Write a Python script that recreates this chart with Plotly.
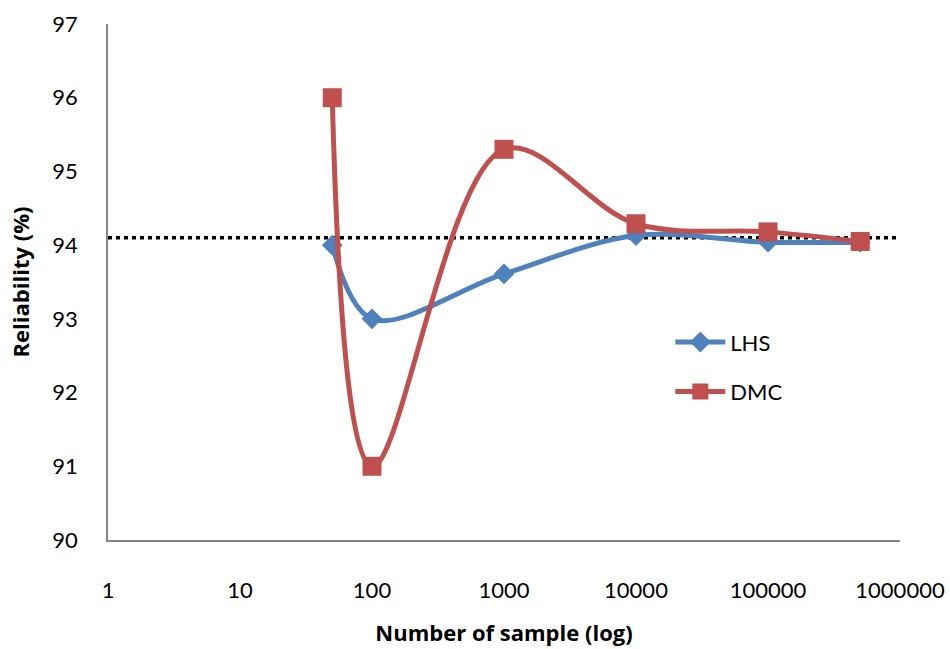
import plotly.graph_objects as go

# Sample counts (log scale) and reliability estimates
samples = [50, 100, 1000, 10000, 100000, 500000]
lhs = [94.0, 93.0, 93.61, 94.13, 94.04, 94.04]
dmc = [96.0, 91.0, 95.3, 94.29, 94.18, 94.05]

# Reference reliability level
ref_level = 94.1
ref_x = [1, 1000000]

x_ticks = [1, 10, 100, 1000, 10000, 100000, 1000000]
y_ticks = [90, 91, 92, 93, 94, 95, 96, 97]

BLUE = "#4F81BD"
RED = "#C0504D"
FONT = "Lato, 'Open Sans', sans-serif"
TITLE_FONT = "'Open Sans', Lato, sans-serif"

fig = go.Figure()

fig.add_trace(go.Scatter(
    x=ref_x, y=[ref_level, ref_level], mode="lines",
    line=dict(color="black", width=3.5, dash="4px,4px"),
    showlegend=False, hoverinfo="skip", cliponaxis=False,
))

fig.add_trace(go.Scatter(
    x=samples, y=lhs, name="LHS", mode="lines+markers",
    line=dict(color=BLUE, width=5, shape="spline", smoothing=1),
    marker=dict(symbol="diamond", size=16, color=BLUE),
    legendgroup="a",
))
fig.add_trace(go.Scatter(
    x=samples, y=dmc, name="DMC", mode="lines+markers",
    line=dict(color=RED, width=5, shape="spline", smoothing=1),
    marker=dict(symbol="square", size=19, color=RED),
    legendgroup="b",
))

fig.update_layout(
    width=950, height=649,
    margin=dict(l=108, r=50, t=24, b=109),
    paper_bgcolor="white", plot_bgcolor="white",
    font=dict(family=FONT, size=22, color="black"),
    legend=dict(
        x=0.71, y=0.424, xanchor="left", yanchor="top",
        bgcolor="rgba(0,0,0,0)", font=dict(size=22),
        itemwidth=50, traceorder="grouped", tracegroupgap=18,
    ),
    xaxis=dict(
        type="log", range=[0, 6], tickvals=x_ticks,
        ticktext=[str(v) for v in x_ticks],
        showgrid=False, zeroline=False, automargin=False,
        showline=True, linecolor="#868686", linewidth=1.5,
        ticks="outside", ticklen=0, ticklabelstandoff=30,
        tickfont=dict(size=22),
        title=dict(text="<b>Number of sample (log)</b>",
                   font=dict(family=TITLE_FONT, size=22), standoff=23),
    ),
    yaxis=dict(
        range=[90, 97], tickvals=y_ticks,
        showgrid=False, zeroline=False, automargin=False,
        showline=True, linecolor="#868686", linewidth=1.5,
        ticks="outside", ticklen=0, ticklabelstandoff=24,
        tickfont=dict(size=22),
        title=dict(text="<b>Reliability (%)</b>",
                   font=dict(family=TITLE_FONT, size=22), standoff=17),
    ),
)

fig.write_html("out.html")
